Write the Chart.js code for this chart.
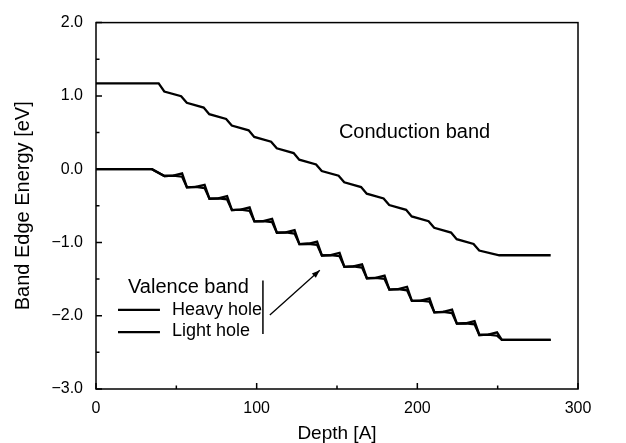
<!DOCTYPE html>
<html><head><meta charset="utf-8">
<script src="https://cdn.jsdelivr.net/npm/chart.js@4"></script>
<style>html,body{margin:0;padding:0;background:#fff}canvas{display:block}</style>
</head><body>
<canvas id="c" width="626" height="443"></canvas>
<script>
// ---- data (Depth in Å, energy in eV) ----
const xTickValues = [0, 100, 200, 300];
const yTickValues = [2, 1, 0, -1, -2, -3];
const xMinorTicks = [50, 150, 250];
const yMinorTicks = [1.5, 0.5, -0.5, -1.5, -2.5];

const condX = [0, 39, 42.5, 53, 56.5, 67, 70.5, 81, 84.5, 95, 98.5, 109, 112.5, 123, 126.5, 137, 140.5,
  151, 154.5, 165, 168.5, 179, 182.5, 193, 196.5, 207, 210.5, 221, 224.5, 235, 238.5, 251, 283];
const condY = [1.17, 1.17, 1.06, 0.995, 0.905, 0.84, 0.75, 0.685, 0.595, 0.53, 0.44, 0.375, 0.285, 0.22, 0.13, 0.065, -0.025,
  -0.09, -0.18, -0.245, -0.335, -0.40, -0.49, -0.555, -0.645, -0.71, -0.80, -0.865, -0.955, -1.02, -1.11, -1.175, -1.175];

const hhX = [0, 34.8,
  42.6, 48.1, 53.6, 56.6, 62.1, 67.6, 70.6, 76.1, 81.6, 84.6, 90.1, 95.6, 98.6, 104.1, 109.6,
  112.6, 118.1, 123.6, 126.6, 132.1, 137.6, 140.6, 146.1, 151.6, 154.6, 160.1, 165.6, 168.6, 174.1, 179.6,
  182.6, 188.1, 193.6, 196.6, 202.1, 207.6, 210.6, 216.1, 221.6, 224.6, 230.1, 235.6, 238.6, 244.1, 249.6,
  252.6, 283];
const hhY = [0, 0,
  -0.093, -0.088, -0.058, -0.248, -0.243, -0.213, -0.403, -0.398, -0.368, -0.558, -0.553, -0.523, -0.713, -0.708, -0.678,
  -0.868, -0.863, -0.833, -1.023, -1.018, -0.988, -1.178, -1.173, -1.143, -1.333, -1.328, -1.298, -1.488, -1.483, -1.453,
  -1.643, -1.638, -1.608, -1.798, -1.793, -1.763, -1.953, -1.948, -1.918, -2.108, -2.103, -2.073, -2.263, -2.258, -2.228,
  -2.33, -2.33];

const lhX = hhX.slice();
const lhY = [0, 0,
  -0.093, -0.088, -0.103, -0.248, -0.243, -0.258, -0.403, -0.398, -0.413, -0.558, -0.553, -0.568, -0.713, -0.708, -0.723,
  -0.868, -0.863, -0.878, -1.023, -1.018, -1.033, -1.178, -1.173, -1.188, -1.333, -1.328, -1.343, -1.488, -1.483, -1.498,
  -1.643, -1.638, -1.653, -1.798, -1.793, -1.808, -1.953, -1.948, -1.963, -2.108, -2.103, -2.118, -2.263, -2.258, -2.273,
  -2.33, -2.33];

const FONT = '"Liberation Sans", Arial, Helvetica, sans-serif';
const pts = (xs, ys) => xs.map((x, i) => ({x, y: ys[i]}));
const lineDS = (label, xs, ys) => ({
  label, data: pts(xs, ys), showLine: true, borderColor: '#000', borderWidth: 2.3,
  pointRadius: 0, fill: false, tension: 0
});

const deco = {
  id: 'deco',
  afterDatasetsDraw(chart) {
    const {ctx, chartArea: a, scales: {x, y}} = chart;
    const px = v => x.getPixelForValue(v), py = v => y.getPixelForValue(v);
    ctx.save();
    ctx.strokeStyle = '#000';
    ctx.fillStyle = '#000';
    ctx.lineWidth = 1.5;
    ctx.strokeRect(a.left, a.top, a.right - a.left, a.bottom - a.top);
    // inward ticks
    ctx.beginPath();
    yTickValues.forEach(v => { ctx.moveTo(a.left, py(v)); ctx.lineTo(a.left + 6, py(v)); });
    yMinorTicks.forEach(v => { ctx.moveTo(a.left, py(v)); ctx.lineTo(a.left + 3.5, py(v)); });
    xTickValues.forEach(v => { ctx.moveTo(px(v), a.bottom); ctx.lineTo(px(v), a.bottom - 6); });
    xMinorTicks.forEach(v => { ctx.moveTo(px(v), a.bottom); ctx.lineTo(px(v), a.bottom - 3.5); });
    ctx.stroke();
    // texts
    ctx.textBaseline = 'middle';
    ctx.textAlign = 'left';
    ctx.font = '20px ' + FONT;
    ctx.fillText('Conduction band', px(151.2), py(0.50));
    ctx.fillText('Valence band', px(19.9), py(-1.616));
    ctx.font = '18px ' + FONT;
    ctx.fillText('Heavy hole', px(47.3), py(-1.92));
    ctx.fillText('Light hole', px(47.3), py(-2.21));
    // legend samples
    ctx.lineWidth = 2.3;
    ctx.beginPath();
    ctx.moveTo(px(13.7), py(-1.92)); ctx.lineTo(px(39.8), py(-1.92));
    ctx.moveTo(px(13.7), py(-2.225)); ctx.lineTo(px(39.8), py(-2.225));
    ctx.stroke();
    // bracket bar
    ctx.lineWidth = 1.5;
    ctx.beginPath();
    ctx.moveTo(px(103.9), py(-1.52)); ctx.lineTo(px(103.9), py(-2.25));
    ctx.stroke();
    // arrow
    const x1 = px(108.2), y1 = py(-1.99), x2 = px(139.3), y2 = py(-1.38);
    ctx.lineWidth = 1.3;
    ctx.beginPath(); ctx.moveTo(x1, y1); ctx.lineTo(x2, y2); ctx.stroke();
    const ang = Math.atan2(y2 - y1, x2 - x1), L = 8, W = 3;
    ctx.beginPath();
    ctx.moveTo(x2, y2);
    ctx.lineTo(x2 - L * Math.cos(ang) + W * Math.sin(ang), y2 - L * Math.sin(ang) - W * Math.cos(ang));
    ctx.lineTo(x2 - L * Math.cos(ang) - W * Math.sin(ang), y2 - L * Math.sin(ang) + W * Math.cos(ang));
    ctx.closePath(); ctx.fill();
    ctx.restore();
  }
};

new Chart(document.getElementById('c'), {
  type: 'scatter',
  data: {
    datasets: [
      lineDS('Conduction band', condX, condY),
      lineDS('Heavy hole', hhX, hhY),
      lineDS('Light hole', lhX, lhY)
    ]
  },
  options: {
    responsive: false,
    devicePixelRatio: 1,
    animation: false,
    layout: {padding: {top: 12, right: 48, left: 0, bottom: 0}},
    plugins: {legend: {display: false}, tooltip: {enabled: false}},
    scales: {
      x: {
        type: 'linear', min: 0, max: 300,
        afterFit: s => { s.height = 54; },
        afterBuildTicks: s => { s.ticks = xTickValues.map(v => ({value: v})); },
        grid: {display: false, drawTicks: false},
        border: {display: false},
        ticks: {color: '#000', padding: 10, maxRotation: 0, font: {family: FONT, size: 16},
          callback: v => String(v)},
        title: {display: true, text: 'Depth [A]', color: '#000', font: {family: FONT, size: 19},
          padding: {top: 0, bottom: -2}}
      },
      y: {
        type: 'linear', min: -3, max: 2,
        afterFit: s => { s.width = 96; },
        afterBuildTicks: s => { s.ticks = yTickValues.map(v => ({value: v})); },
        grid: {display: false, drawTicks: false},
        border: {display: false},
        ticks: {color: '#000', padding: 13, font: {family: FONT, size: 16},
          callback: v => v.toFixed(1).replace('-', '\u2212')},
        title: {display: true, text: 'Band Edge Energy [eV]', color: '#000', font: {family: FONT, size: 20},
          padding: {top: 11, bottom: 0}}
      }
    }
  },
  plugins: [deco]
});
</script>
</body></html>
